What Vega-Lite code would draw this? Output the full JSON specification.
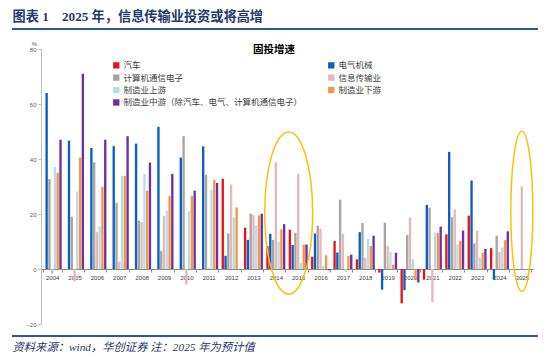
{
  "$schema": "https://vega.github.io/schema/vega-lite/v6.json",
  "padding": {"left": 12, "top": 9, "right": 10, "bottom": 4},
  "width": 526,
  "height": 275,
  "config": {"view": {"stroke": null}, "font": "Noto Sans CJK SC"},
  "resolve": {"scale": {"x": "independent"}, "axis": {"x": "independent"}},
  "datasets": {
    "invest": [
      {"year": "2004", "series": "电气机械", "value": 64},
      {"year": "2004", "series": "计算机通信电子", "value": 32.7},
      {"year": "2004", "series": "信息传输业", "value": -1.8},
      {"year": "2004", "series": "制造业上游", "value": 37.1},
      {"year": "2004", "series": "制造业下游", "value": 35},
      {"year": "2004", "series": "制造业中游（除汽车、电气、计算机通信电子）", "value": 47},
      {"year": "2005", "series": "电气机械", "value": 46.7},
      {"year": "2005", "series": "计算机通信电子", "value": 19},
      {"year": "2005", "series": "信息传输业", "value": -4.5},
      {"year": "2005", "series": "制造业上游", "value": 28.2},
      {"year": "2005", "series": "制造业下游", "value": 40.5},
      {"year": "2005", "series": "制造业中游（除汽车、电气、计算机通信电子）", "value": 71},
      {"year": "2006", "series": "电气机械", "value": 44},
      {"year": "2006", "series": "计算机通信电子", "value": 38.8},
      {"year": "2006", "series": "信息传输业", "value": 13.4},
      {"year": "2006", "series": "制造业上游", "value": 15.5},
      {"year": "2006", "series": "制造业下游", "value": 29.9},
      {"year": "2006", "series": "制造业中游（除汽车、电气、计算机通信电子）", "value": 47},
      {"year": "2007", "series": "电气机械", "value": 44.7},
      {"year": "2007", "series": "计算机通信电子", "value": 24.1},
      {"year": "2007", "series": "信息传输业", "value": 2.7},
      {"year": "2007", "series": "制造业上游", "value": 33.9},
      {"year": "2007", "series": "制造业下游", "value": 33.8},
      {"year": "2007", "series": "制造业中游（除汽车、电气、计算机通信电子）", "value": 48.3},
      {"year": "2008", "series": "电气机械", "value": 45.6},
      {"year": "2008", "series": "计算机通信电子", "value": 17.6},
      {"year": "2008", "series": "信息传输业", "value": 17.1},
      {"year": "2008", "series": "制造业上游", "value": 34.5},
      {"year": "2008", "series": "制造业下游", "value": 28.5},
      {"year": "2008", "series": "制造业中游（除汽车、电气、计算机通信电子）", "value": 38.7},
      {"year": "2009", "series": "电气机械", "value": 51.7},
      {"year": "2009", "series": "计算机通信电子", "value": 6.6},
      {"year": "2009", "series": "信息传输业", "value": 19.3},
      {"year": "2009", "series": "制造业上游", "value": 21.3},
      {"year": "2009", "series": "制造业下游", "value": 26.5},
      {"year": "2009", "series": "制造业中游（除汽车、电气、计算机通信电子）", "value": 34.6},
      {"year": "2010", "series": "电气机械", "value": 40.5},
      {"year": "2010", "series": "计算机通信电子", "value": 48.3},
      {"year": "2010", "series": "信息传输业", "value": -5.7},
      {"year": "2010", "series": "制造业上游", "value": 21},
      {"year": "2010", "series": "制造业下游", "value": 26.6},
      {"year": "2010", "series": "制造业中游（除汽车、电气、计算机通信电子）", "value": 28.5},
      {"year": "2011", "series": "电气机械", "value": 44.6},
      {"year": "2011", "series": "计算机通信电子", "value": 34.3},
      {"year": "2011", "series": "信息传输业", "value": 0.4},
      {"year": "2011", "series": "制造业上游", "value": 28.8},
      {"year": "2011", "series": "制造业下游", "value": 32.4},
      {"year": "2011", "series": "制造业中游（除汽车、电气、计算机通信电子）", "value": 31.3},
      {"year": "2012", "series": "汽车", "value": 32.8},
      {"year": "2012", "series": "电气机械", "value": 4.8},
      {"year": "2012", "series": "计算机通信电子", "value": 12.9},
      {"year": "2012", "series": "信息传输业", "value": 30.7},
      {"year": "2012", "series": "制造业上游", "value": 18.8},
      {"year": "2012", "series": "制造业下游", "value": 22.4},
      {"year": "2013", "series": "汽车", "value": 15},
      {"year": "2013", "series": "电气机械", "value": 10.6},
      {"year": "2013", "series": "计算机通信电子", "value": 20.1},
      {"year": "2013", "series": "信息传输业", "value": 19.6},
      {"year": "2013", "series": "制造业上游", "value": 15.9},
      {"year": "2013", "series": "制造业下游", "value": 19.5},
      {"year": "2013", "series": "制造业中游（除汽车、电气、计算机通信电子）", "value": 20.1},
      {"year": "2014", "series": "汽车", "value": 8.3},
      {"year": "2014", "series": "电气机械", "value": 12.8},
      {"year": "2014", "series": "计算机通信电子", "value": 10.6},
      {"year": "2014", "series": "信息传输业", "value": 38.8},
      {"year": "2014", "series": "制造业上游", "value": 10},
      {"year": "2014", "series": "制造业下游", "value": 14.4},
      {"year": "2014", "series": "制造业中游（除汽车、电气、计算机通信电子）", "value": 16.3},
      {"year": "2015", "series": "汽车", "value": 14.3},
      {"year": "2015", "series": "电气机械", "value": 8.7},
      {"year": "2015", "series": "计算机通信电子", "value": 13.2},
      {"year": "2015", "series": "信息传输业", "value": 34.6},
      {"year": "2015", "series": "制造业上游", "value": 2.2},
      {"year": "2015", "series": "制造业下游", "value": 8.9},
      {"year": "2015", "series": "制造业中游（除汽车、电气、计算机通信电子）", "value": 8.9},
      {"year": "2016", "series": "汽车", "value": 4.5},
      {"year": "2016", "series": "电气机械", "value": 12.9},
      {"year": "2016", "series": "计算机通信电子", "value": 15.7},
      {"year": "2016", "series": "信息传输业", "value": 14.6},
      {"year": "2016", "series": "制造业上游", "value": 1.1},
      {"year": "2016", "series": "制造业下游", "value": 5},
      {"year": "2016", "series": "制造业中游（除汽车、电气、计算机通信电子）", "value": -0.5},
      {"year": "2017", "series": "汽车", "value": 10.2},
      {"year": "2017", "series": "电气机械", "value": 6},
      {"year": "2017", "series": "计算机通信电子", "value": 25.2},
      {"year": "2017", "series": "信息传输业", "value": 12.8},
      {"year": "2017", "series": "制造业上游", "value": -1},
      {"year": "2017", "series": "制造业下游", "value": 4.8},
      {"year": "2017", "series": "制造业中游（除汽车、电气、计算机通信电子）", "value": 5.2},
      {"year": "2018", "series": "汽车", "value": 3.5},
      {"year": "2018", "series": "电气机械", "value": 13.4},
      {"year": "2018", "series": "计算机通信电子", "value": 16.7},
      {"year": "2018", "series": "信息传输业", "value": 4.1},
      {"year": "2018", "series": "制造业上游", "value": 10.9},
      {"year": "2018", "series": "制造业下游", "value": 8.4},
      {"year": "2018", "series": "制造业中游（除汽车、电气、计算机通信电子）", "value": 12.1},
      {"year": "2019", "series": "汽车", "value": -1.3},
      {"year": "2019", "series": "电气机械", "value": -7.5},
      {"year": "2019", "series": "计算机通信电子", "value": 16.8},
      {"year": "2019", "series": "信息传输业", "value": 8.5},
      {"year": "2019", "series": "制造业上游", "value": 6.2},
      {"year": "2019", "series": "制造业下游", "value": 1.6},
      {"year": "2019", "series": "制造业中游（除汽车、电气、计算机通信电子）", "value": 5.9},
      {"year": "2020", "series": "汽车", "value": -12.5},
      {"year": "2020", "series": "电气机械", "value": -7.7},
      {"year": "2020", "series": "计算机通信电子", "value": 12.4},
      {"year": "2020", "series": "信息传输业", "value": 18.8},
      {"year": "2020", "series": "制造业上游", "value": 3.7},
      {"year": "2020", "series": "制造业下游", "value": -3.7},
      {"year": "2020", "series": "制造业中游（除汽车、电气、计算机通信电子）", "value": -4.9},
      {"year": "2021", "series": "汽车", "value": -3.9},
      {"year": "2021", "series": "电气机械", "value": 23.3},
      {"year": "2021", "series": "计算机通信电子", "value": 22.3},
      {"year": "2021", "series": "信息传输业", "value": -12},
      {"year": "2021", "series": "制造业上游", "value": 13.2},
      {"year": "2021", "series": "制造业下游", "value": 13.2},
      {"year": "2021", "series": "制造业中游（除汽车、电气、计算机通信电子）", "value": 15.4},
      {"year": "2022", "series": "汽车", "value": 12.6},
      {"year": "2022", "series": "电气机械", "value": 42.6},
      {"year": "2022", "series": "计算机通信电子", "value": 18.8},
      {"year": "2022", "series": "信息传输业", "value": 21.7},
      {"year": "2022", "series": "制造业上游", "value": 8.9},
      {"year": "2022", "series": "制造业下游", "value": 10.2},
      {"year": "2022", "series": "制造业中游（除汽车、电气、计算机通信电子）", "value": 14},
      {"year": "2023", "series": "汽车", "value": 19.4},
      {"year": "2023", "series": "电气机械", "value": 32.2},
      {"year": "2023", "series": "计算机通信电子", "value": 9.3},
      {"year": "2023", "series": "信息传输业", "value": 13.9},
      {"year": "2023", "series": "制造业上游", "value": 4.1},
      {"year": "2023", "series": "制造业下游", "value": 6},
      {"year": "2023", "series": "制造业中游（除汽车、电气、计算机通信电子）", "value": 7.3},
      {"year": "2024", "series": "汽车", "value": 7.6},
      {"year": "2024", "series": "电气机械", "value": -3.9},
      {"year": "2024", "series": "计算机通信电子", "value": 12.1},
      {"year": "2024", "series": "信息传输业", "value": 6.2},
      {"year": "2024", "series": "制造业上游", "value": 7.8},
      {"year": "2024", "series": "制造业下游", "value": 10.5},
      {"year": "2024", "series": "制造业中游（除汽车、电气、计算机通信电子）", "value": 13.7},
      {"year": "2025", "series": "信息传输业", "value": 30}
    ]
  },
  "layer": [
    {
      "layer": [
        {
          "data": {"name": "invest"},
          "mark": {"type": "bar"},
          "encoding": {
            "x": {
              "field": "year", "type": "nominal",
              "scale": {"range": [29, 521], "paddingInner": 0.15, "paddingOuter": 0.075},
              "axis": {
                "orient": "bottom", "offset": -55, "labelAngle": 0, "labelFontSize": 6,
                "labelFont": "Liberation Sans", "labelColor": "#404040",
                "tickBand": "extent", "tickSize": 3, "domainColor": "#8C8C8C",
                "tickColor": "#8C8C8C", "labelPadding": 2, "grid": false,
                "title": "固投增速", "titleX": 261.5, "titleY": -220,
                "titleAlign": "center", "titleBaseline": "middle", "titleAngle": 0,
                "titleFontSize": 10.5, "titleFontWeight": "bold", "titleColor": "#000000",
                "titleFont": "Noto Sans CJK SC"
              }
            },
            "xOffset": {
              "field": "series", "type": "nominal",
              "sort": ["汽车", "电气机械", "计算机通信电子", "信息传输业", "制造业上游", "制造业下游", "制造业中游（除汽车、电气、计算机通信电子）"],
              "scale": {"paddingInner": 0.15}
            },
            "y": {
              "field": "value", "type": "quantitative",
              "scale": {"domain": [-20, 80], "nice": false, "zero": false},
              "axis": {
                "values": [-20, -10, 0, 10, 20, 30, 40, 50, 60, 70, 80],
                "labelOverlap": false,
                "grid": false, "offset": -29, "domainColor": "#BFBFBF", "tickColor": "#BFBFBF",
                "tickSize": 3, "labelFontSize": 6, "labelFont": "Liberation Sans",
                "labelColor": "#595959", "labelPadding": 2,
                "title": "%", "titleAngle": 0, "titleX": -7, "titleY": -3,
                "titleFontSize": 6, "titleFontWeight": "normal", "titleFont": "Liberation Sans",
                "titleColor": "#595959"
              }
            },
            "color": {
              "field": "series", "type": "nominal",
              "scale": {
                "domain": ["汽车", "计算机通信电子", "制造业上游", "制造业中游（除汽车、电气、计算机通信电子）", "电气机械", "信息传输业", "制造业下游"],
                "range": ["#E8141C", "#A5A5A5", "#B7DEE8", "#7030A0", "#0B5FC4", "#E6B9B8", "#F79646"]
              },
              "legend": {
                "orient": "none", "legendX": 100, "legendY": 12, "columns": 2,
                "title": null, "symbolType": "square", "symbolSize": 40,
                "symbolStrokeWidth": 0, "labelFontSize": 8.5, "labelColor": "#404040",
                "labelLimit": 400, "columnPadding": 24, "rowPadding": 3.4, "padding": 0,
                "labelOffset": 3
              }
            }
          }
        },
        {
          "data": {"values": [{"year": "2015", "value": 20.4}]},
          "mark": {
            "type": "point",
            "shape": "M -0.296 0 A 0.296 1 0 1 0 0.296 0 A 0.296 1 0 1 0 -0.296 0 Z",
            "size": 26244, "filled": false, "stroke": "#FFC000", "strokeWidth": 1.5, "opacity": 1
          },
          "encoding": {
            "x": {"field": "year", "type": "nominal", "bandPosition": 0},
            "y": {"field": "value", "type": "quantitative"}
          }
        },
        {
          "data": {"values": [{"year": "2025", "value": 21}]},
          "mark": {
            "type": "point",
            "shape": "M -0.1375 0 A 0.1375 1 0 1 0 0.1375 0 A 0.1375 1 0 1 0 -0.1375 0 Z",
            "size": 25600, "filled": false, "stroke": "#FFC000", "strokeWidth": 1.5, "opacity": 1
          },
          "encoding": {
            "x": {"field": "year", "type": "nominal"},
            "y": {"field": "value", "type": "quantitative"}
          }
        },
        {
          "data": {"values": [{"edge": "header", "value": 87.65, "value2": 86.92}, {"edge": "footer", "value": -23.99, "value2": -24.72}]},
          "mark": {"type": "rect", "color": "#2F5597", "clip": false},
          "encoding": {
            "y": {"field": "value", "type": "quantitative"},
            "y2": {"field": "value2"}
          }
        }
      ]
    },
    {
      "data": {"values": [{"edge": 0}]},
      "mark": {"type": "point", "size": 0, "opacity": 0},
      "encoding": {
        "x": {
          "field": "edge", "type": "quantitative",
          "scale": {"domain": [0, 1]},
          "axis": {
            "orient": "top", "offset": 20, "domain": false,
            "ticks": false, "labels": false, "grid": false,
            "title": "图表 1\u20032025 年，信息传输业投资或将高增",
            "titleAnchor": "start", "titleAlign": "left", "titlePadding": 6,
            "titleFont": "Liberation Serif, Noto Sans CJK SC", "titleFontSize": 13.2,
            "titleFontWeight": "bold", "titleColor": "#1F3A6E"
          }
        }
      }
    },
    {
      "data": {"values": [{"edge": 0}]},
      "mark": {"type": "point", "size": 0, "opacity": 0},
      "encoding": {
        "x": {
          "field": "edge", "type": "quantitative",
          "scale": {"domain": [0, 1]},
          "axis": {
            "orient": "bottom", "offset": 12, "domain": false,
            "ticks": false, "labels": false, "grid": false,
            "title": "资料来源：wind，华创证券 注：2025 年为预计值",
            "titleAnchor": "start", "titleAlign": "left", "titlePadding": 5,
            "titleFont": "Liberation Serif, Noto Sans CJK SC", "titleFontSize": 11.3,
            "titleFontWeight": "normal", "titleFontStyle": "italic", "titleColor": "#1F3A6E"
          }
        }
      }
    }
  ]
}
